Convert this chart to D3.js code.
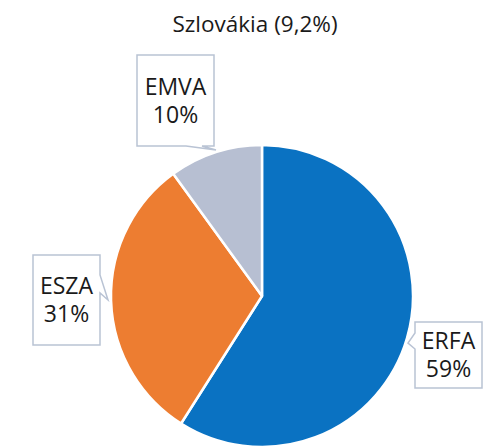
<!DOCTYPE html>
<html><head><meta charset="utf-8">
<script src="https://cdn.jsdelivr.net/npm/d3@7"></script>
<style>body{margin:0;background:#fff}svg{display:block}</style>
</head><body>
<script>
const categories = ["ERFA", "ESZA", "EMVA"];
const values = [59, 31, 10];
const colors = ["#0a72c2", "#ed7d31", "#b7bfd2"];
const title = "Szlovákia (9,2%)";

const W = 487, H = 447;
const svg = d3.select("body").append("svg").attr("width", W).attr("height", H);
const cx = 262, cy = 296, R = 151;

svg.append("text").attr("x", 255).attr("y", 32).attr("text-anchor", "middle")
  .attr("font-family", "Open Sans, Noto Sans, sans-serif").attr("font-size", 22.5).attr("fill", "#1a1a1a").text(title);

const pie = d3.pie().sort(null).value(d => d)(values);
const arc = d3.arc().innerRadius(0).outerRadius(R);
const g = svg.append("g").attr("transform", `translate(${cx},${cy})`);
g.selectAll("path").data(pie).join("path").attr("d", arc)
  .attr("fill", (d, i) => colors[i]).attr("stroke", "#fff").attr("stroke-width", 2.5).attr("stroke-linejoin", "round");

const boxes = [
  {x0: 415, y0: 322, x1: 482, y1: 388, side: "left", a: 333, b: 349, tip: [408, 343]},
  {x0: 33, y0: 255, x1: 100, y1: 345, side: "right", a: 275, b: 293, tip: [108, 300]},
  {x0: 137, y0: 55, x1: 214, y1: 146, side: "bottom", a: 186, b: 202, tip: [216, 150]}
];
boxes.forEach((bx, i) => {
  let p;
  const {x0, y0, x1, y1, a, b, tip} = bx;
  if (bx.side === "left") p = [[x0,y0],[x1,y0],[x1,y1],[x0,y1],[x0,b],tip,[x0,a]];
  else if (bx.side === "right") p = [[x0,y0],[x1,y0],[x1,a],tip,[x1,b],[x1,y1],[x0,y1]];
  else p = [[x0,y0],[x1,y0],[x1,y1],[b,y1],tip,[a,y1],[x0,y1]];
  svg.append("path").attr("d", "M" + p.map(q => q.join(",")).join("L") + "Z")
    .attr("fill", "#fff").attr("stroke", "#b9c3d4").attr("stroke-width", 1.5);
  const mx = (x0 + x1) / 2, my = (y0 + y1) / 2;
  const t = svg.append("text").attr("text-anchor", "middle")
    .attr("font-family", "Open Sans, Noto Sans, sans-serif").attr("font-size", 23).attr("fill", "#1a1a1a");
  t.append("tspan").attr("x", mx).attr("y", my - 6).text(categories[i]);
  t.append("tspan").attr("x", mx).attr("y", my + 22).text(values[i] + "%");
});
</script>
</body></html>
